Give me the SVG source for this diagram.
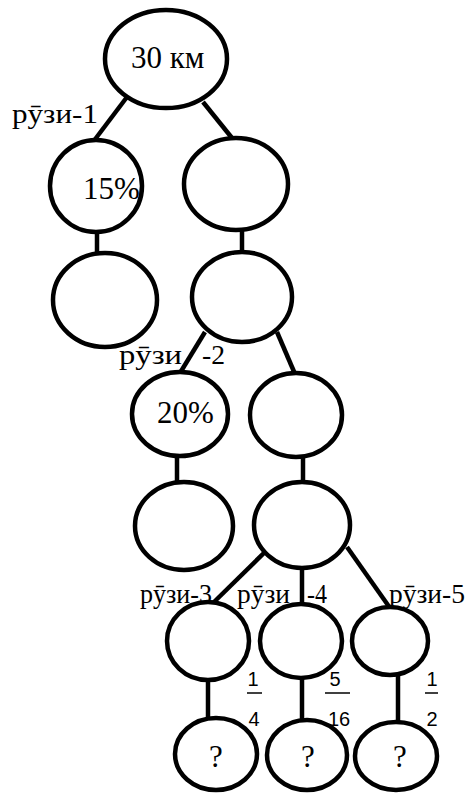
<svg xmlns="http://www.w3.org/2000/svg" width="466" height="793" viewBox="0 0 466 793">
  <style>
    .node { fill: #ffffff; stroke: #000000; stroke-width: 4.5; }
    .edge { stroke: #000000; stroke-width: 4.5; fill: none; }
    .big { font-family: "Liberation Serif", "Times New Roman", serif; font-size: 31px; fill: #000000; }
    .lbl { font-family: "Liberation Serif", "Times New Roman", serif; font-size: 27px; fill: #000000; }
    .frac { font-family: "Liberation Sans", Arial, sans-serif; font-size: 20px; fill: #000000; text-anchor: middle; }
    .bar { stroke: #000000; stroke-width: 1.5; }
  </style>
  <rect width="466" height="793" fill="#ffffff"/>

  <!-- connectors -->
  <g id="edges">
    <line class="edge" x1="127" y1="97" x2="93" y2="142"/>
    <line class="edge" x1="203" y1="102" x2="232" y2="138"/>
    <line class="edge" x1="97" y1="230" x2="97" y2="255"/>
    <line class="edge" x1="242" y1="228" x2="242" y2="254"/>
    <line class="edge" x1="205" y1="332" x2="180" y2="373"/>
    <line class="edge" x1="277" y1="332" x2="295" y2="374"/>
    <line class="edge" x1="177" y1="455" x2="177" y2="484"/>
    <line class="edge" x1="303" y1="455" x2="303" y2="484"/>
    <line class="edge" x1="267" y1="550" x2="213" y2="603"/>
    <line class="edge" x1="302" y1="566" x2="302" y2="604"/>
    <line class="edge" x1="347" y1="547" x2="390" y2="608"/>
    <line class="edge" x1="208" y1="678" x2="208" y2="718"/>
    <line class="edge" x1="302" y1="676" x2="302" y2="721"/>
    <line class="edge" x1="398" y1="673" x2="398" y2="723"/>
  </g>

  <!-- nodes -->
  <g id="n-total">
    <ellipse class="node" cx="166" cy="59" rx="61" ry="49"/>
    <text class="big" x="131" y="68">30 км</text>
  </g>
  <g id="n-day1">
    <ellipse class="node" cx="96" cy="186" rx="46" ry="46"/>
    <text class="big" x="83" y="199">15%</text>
  </g>
  <g id="n-rest1">
    <ellipse class="node" cx="236" cy="184" rx="52" ry="46"/>
  </g>
  <g id="n-day1-value">
    <ellipse class="node" cx="105" cy="300" rx="52" ry="47"/>
  </g>
  <g id="n-rest1-value">
    <ellipse class="node" cx="242" cy="297" rx="50" ry="45"/>
  </g>
  <g id="n-day2">
    <ellipse class="node" cx="180" cy="414" rx="48" ry="42"/>
    <text class="big" x="157" y="423">20%</text>
  </g>
  <g id="n-rest2">
    <ellipse class="node" cx="296" cy="415" rx="46" ry="42"/>
  </g>
  <g id="n-day2-value">
    <ellipse class="node" cx="184" cy="526" rx="49" ry="44"/>
  </g>
  <g id="n-rest2-value">
    <ellipse class="node" cx="302" cy="525" rx="48" ry="43"/>
  </g>
  <g id="n-day3">
    <ellipse class="node" cx="208" cy="641" rx="41" ry="39"/>
  </g>
  <g id="n-day4">
    <ellipse class="node" cx="301" cy="641" rx="41" ry="37"/>
  </g>
  <g id="n-day5">
    <ellipse class="node" cx="390" cy="641" rx="38" ry="34"/>
  </g>
  <g id="n-day3-value">
    <ellipse class="node" cx="216" cy="754" rx="41" ry="36"/>
    <text class="big" x="216" y="767" text-anchor="middle">?</text>
  </g>
  <g id="n-day4-value">
    <ellipse class="node" cx="307" cy="755" rx="40" ry="35"/>
    <text class="big" x="308" y="767" text-anchor="middle">?</text>
  </g>
  <g id="n-day5-value">
    <ellipse class="node" cx="396" cy="756" rx="41" ry="34"/>
    <text class="big" x="400" y="767" text-anchor="middle">?</text>
  </g>

  <!-- day labels -->
  <g id="labels">
    <text class="lbl" x="12" y="123" textLength="86" lengthAdjust="spacingAndGlyphs">рӯзи-1</text>
    <text class="lbl" x="119" y="364"><tspan textLength="63" lengthAdjust="spacingAndGlyphs">рӯзи</tspan><tspan x="202" textLength="23" lengthAdjust="spacingAndGlyphs">-2</tspan></text>
    <text class="lbl" x="140" y="603" textLength="72" lengthAdjust="spacingAndGlyphs">рӯзи-3</text>
    <text class="lbl" x="237" y="603"><tspan textLength="53" lengthAdjust="spacingAndGlyphs">рӯзи</tspan><tspan x="307" textLength="20" lengthAdjust="spacingAndGlyphs">-4</tspan></text>
    <text class="lbl" x="389" y="603" textLength="76" lengthAdjust="spacingAndGlyphs">рӯзи-5</text>
  </g>

  <!-- fractions -->
  <g id="fractions">
    <text class="frac" x="253" y="686">1</text>
    <line class="bar" x1="247" y1="693" x2="262" y2="693"/>
    <text class="frac" x="254" y="726">4</text>

    <text class="frac" x="335" y="686">5</text>
    <line class="bar" x1="325" y1="693" x2="350" y2="693"/>
    <text class="frac" x="339" y="726">16</text>

    <text class="frac" x="432" y="686">1</text>
    <line class="bar" x1="425" y1="693" x2="438" y2="693"/>
    <text class="frac" x="432" y="726">2</text>
  </g>
</svg>
